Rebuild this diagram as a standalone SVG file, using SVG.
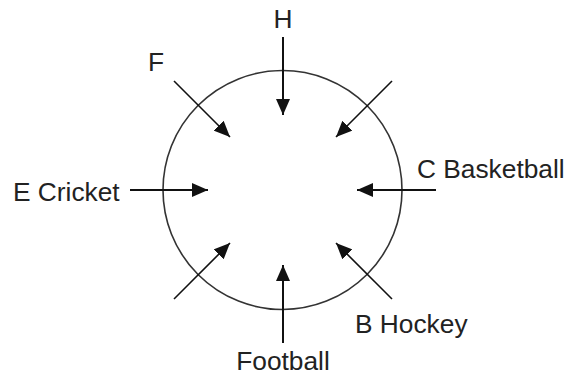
<svg xmlns="http://www.w3.org/2000/svg" width="569" height="375" viewBox="0 0 569 375">
<style>
.lbl{font-family:"Liberation Sans",Arial,sans-serif;font-size:26.3px;fill:#222}
.arr{stroke:#111;stroke-width:2;fill:none;marker-end:url(#ah)}
.diag{stroke-width:1.6}
.ring{fill:none;stroke:#333;stroke-width:1.6}
</style>
<defs>
<marker id="ah" markerUnits="userSpaceOnUse" markerWidth="16" markerHeight="14" refX="16" refY="7" orient="auto">
<path d="M0,0 L16,7 L0,14 z" fill="#111"/>
</marker>
</defs>
<rect width="569" height="375" fill="#fff"/>
<g id="circle"><circle class="ring" cx="282.5" cy="190" r="119.5"/></g>
<g id="connectors">
<line class="arr" x1="283" y1="37" x2="283" y2="115"/>
<line class="arr diag" x1="174" y1="81" x2="230" y2="137"/>
<line class="arr diag" x1="392" y1="81" x2="336" y2="137"/>
<line class="arr" x1="130" y1="190" x2="208" y2="190"/>
<line class="arr" x1="436" y1="190" x2="357" y2="190"/>
<line class="arr diag" x1="174" y1="299" x2="230" y2="243"/>
<line class="arr diag" x1="392" y1="299" x2="336" y2="243"/>
<line class="arr" x1="283" y1="343" x2="283" y2="265"/>
</g>
<g id="label-h"><text class="lbl" x="283" y="28" text-anchor="middle">H</text></g>
<g id="label-f"><text class="lbl" x="148" y="70.5">F</text></g>
<g id="label-e"><text class="lbl" x="13" y="201">E Cricket</text></g>
<g id="label-c"><text class="lbl" x="417" y="178">C Basketball</text></g>
<g id="label-b"><text class="lbl" x="355" y="333">B Hockey</text></g>
<g id="label-football"><text class="lbl" x="283" y="370" text-anchor="middle">Football</text></g>
</svg>
